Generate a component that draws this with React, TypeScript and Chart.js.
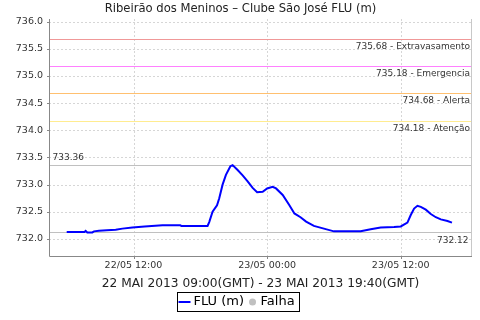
import React, { useEffect, useRef } from "react";
import { Chart, registerables } from "chart.js";

Chart.register(...registerables);

const TITLE = "Ribeirão dos Meninos – Clube São José FLU (m)";
const X_AXIS_TITLE = "22 MAI 2013 09:00(GMT) - 23 MAI 2013 19:40(GMT)";

// hours since 22/05 00:00 (local time)
const hours = [
  6.0, 7.0, 7.6, 7.7, 7.85, 8.3, 8.45, 8.9, 9.6, 10.4, 11.0, 11.9, 13.0, 14.6,
  16.2, 16.3, 18.5, 18.65, 18.8, 19.1, 19.5, 19.7, 20.0, 20.3, 20.7, 20.9,
  21.35, 21.8, 22.25, 22.7, 23.1, 23.6, 24.0, 24.5, 24.8, 25.4, 26.0, 26.45,
  27.0, 27.5, 28.2, 29.1, 30.0, 32.4, 33.3, 34.2, 35.4, 36.0, 36.6, 36.9, 37.2,
  37.5, 37.8, 38.25, 38.7, 39.15, 39.6, 40.2, 40.6,
];
const levels = [
  732.13, 732.13, 732.13, 732.15, 732.12, 732.12, 732.14, 732.15, 732.16,
  732.17, 732.19, 732.21, 732.23, 732.25, 732.25, 732.24, 732.24, 732.24,
  732.31, 732.5, 732.62, 732.75, 733.0, 733.18, 733.34, 733.36, 733.27, 733.17,
  733.06, 732.94, 732.86, 732.87, 732.93, 732.96, 732.93, 732.81, 732.62,
  732.47, 732.4, 732.32, 732.24, 732.19, 732.14, 732.14, 732.18, 732.21, 732.22,
  732.23, 732.3, 732.44, 732.56, 732.61, 732.59, 732.54, 732.46, 732.4, 732.36,
  732.33, 732.3,
];

const xTickValues = [12, 24, 36];
const xTickLabels = ["22/05 12:00", "23/05 00:00", "23/05 12:00"];
const X_MIN = 4.41;
const X_MAX = 42.4;
const Y_MIN = 731.686;
const Y_MAX = 736.05;
const Y_STEP = 0.5;

const thresholdValues = [735.68, 735.18, 734.68, 734.18];
const thresholdNames = ["Extravasamento", "Emergencia", "Alerta", "Atenção"];
const thresholdColors = ["#f09898", "#ff80ff", "#ffc070", "#ffec90"];
const maxValue = 733.36;
const minValue = 732.12;

const legendLabels = ["FLU (m)", "Falha"];

const FONT = "'DejaVu Sans', sans-serif";

const decor = {
  id: "decor",
  beforeDatasetsDraw(chart: any) {
    const { ctx, chartArea: a, scales } = chart;
    const x = scales.x;
    const y = scales.y;
    ctx.save();
    // dashed grid
    ctx.strokeStyle = "#d6d6d6";
    ctx.lineWidth = 1;
    ctx.setLineDash([2, 2]);
    y.ticks.forEach((t: any) => {
      const py = Math.round(y.getPixelForValue(t.value)) + 0.5;
      ctx.beginPath();
      ctx.moveTo(a.left, py);
      ctx.lineTo(a.right, py);
      ctx.stroke();
    });
    x.ticks.forEach((t: any) => {
      const px = Math.round(x.getPixelForValue(t.value)) + 0.5;
      ctx.beginPath();
      ctx.moveTo(px, a.top);
      ctx.lineTo(px, a.bottom);
      ctx.stroke();
    });
    ctx.setLineDash([]);

    // threshold lines
    const hline = (v: number, color: string) => {
      const py = Math.round(y.getPixelForValue(v)) + 0.5;
      ctx.strokeStyle = color;
      ctx.lineWidth = 1;
      ctx.beginPath();
      ctx.moveTo(a.left, py);
      ctx.lineTo(a.right, py);
      ctx.stroke();
      return py;
    };
    ctx.font = `9px ${FONT}`;
    ctx.fillStyle = "#333";
    thresholdValues.forEach((v, i) => {
      const py = hline(v, thresholdColors[i]);
      ctx.textAlign = "right";
      ctx.textBaseline = "middle";
      ctx.fillText(`${v.toFixed(2)} - ${thresholdNames[i]}`, a.right - 2, py + 7.5);
    });
    const pyMax = hline(maxValue, "#c0c0c0");
    ctx.textAlign = "left";
    ctx.textBaseline = "middle";
    ctx.fillText(maxValue.toFixed(2), a.left + 3.5, pyMax - 7.7);
    const pyMin = hline(minValue, "#c0c0c0");
    ctx.textAlign = "right";
    ctx.fillText(minValue.toFixed(2), a.right - 3.5, pyMin + 7.7);
    ctx.restore();
  },
  afterDraw(chart: any) {
    const { ctx, chartArea: a, scales } = chart;
    const x = scales.x;
    const y = scales.y;
    ctx.save();
    // axes
    ctx.lineWidth = 1;
    ctx.strokeStyle = "#c8c8c8";
    ctx.beginPath();
    ctx.moveTo(a.right - 0.5, a.top);
    ctx.lineTo(a.right - 0.5, a.bottom);
    ctx.stroke();
    ctx.strokeStyle = "#888";
    ctx.beginPath();
    ctx.moveTo(a.left + 0.5, a.top);
    ctx.lineTo(a.left + 0.5, a.bottom + 0.5);
    ctx.lineTo(a.right, a.bottom + 0.5);
    ctx.stroke();
    y.ticks.forEach((t: any) => {
      const py = Math.round(y.getPixelForValue(t.value)) + 0.5;
      ctx.beginPath();
      ctx.moveTo(a.left - 2, py);
      ctx.lineTo(a.left, py);
      ctx.stroke();
    });
    x.ticks.forEach((t: any) => {
      const px = Math.round(x.getPixelForValue(t.value)) + 0.5;
      ctx.beginPath();
      ctx.moveTo(px, a.bottom + 1);
      ctx.lineTo(px, a.bottom + 3);
      ctx.stroke();
    });

    // title
    ctx.fillStyle = "#222";
    ctx.font = `11.6px ${FONT}`;
    ctx.textAlign = "center";
    ctx.textBaseline = "alphabetic";
    ctx.fillText(TITLE, chart.width / 2 + 0.5, 12);

    // x axis title
    ctx.font = `12.2px ${FONT}`;
    ctx.fillText(X_AXIS_TITLE, (a.left + a.right) / 2, 287);

    // legend
    ctx.font = `13px ${FONT}`;
    const w1 = ctx.measureText(legendLabels[0]).width;
    const w2 = ctx.measureText(legendLabels[1]).width;
    const total = 1 + 12 + 3 + w1 + 5 + 7 + 4.5 + w2 + 5;
    const left = Math.round(238.5 - total / 2) + 0.5;
    const top = 292.5;
    const h = 19;
    const cy = top + h / 2;
    ctx.strokeStyle = "#000";
    ctx.lineWidth = 1;
    ctx.strokeRect(left, top, Math.round(total), h);
    let cx = left + 1;
    ctx.strokeStyle = "#0000ff";
    ctx.lineWidth = 2;
    ctx.beginPath();
    ctx.moveTo(cx, cy);
    ctx.lineTo(cx + 12, cy);
    ctx.stroke();
    cx += 15;
    ctx.fillStyle = "#000";
    ctx.textAlign = "left";
    ctx.textBaseline = "middle";
    ctx.fillText(legendLabels[0], cx, cy);
    cx += w1 + 5 + 3.5;
    ctx.fillStyle = "#c0c0c0";
    ctx.beginPath();
    ctx.arc(cx, cy, 3.5, 0, Math.PI * 2);
    ctx.fill();
    cx += 3.5 + 4.5;
    ctx.fillStyle = "#000";
    ctx.fillText(legendLabels[1], cx, cy);
    ctx.restore();
  },
};

export default function App() {
  const ref = useRef<HTMLCanvasElement | null>(null);
  useEffect(() => {
    if (!ref.current) return;
    const chart = new Chart(ref.current, {
      type: "line",
      data: {
        datasets: [
          {
            label: legendLabels[0],
            data: hours.map((h, i) => ({ x: h, y: levels[i] })),
            borderColor: "#0000ff",
            backgroundColor: "#0000ff",
            borderWidth: 2,
            pointRadius: 0,
            tension: 0,
            fill: false,
          },
        ],
      },
      options: {
        responsive: false,
        animation: false,
        devicePixelRatio: 1,
        layout: { padding: { left: 0, top: 19, right: 8, bottom: 0 } },
        plugins: {
          legend: { display: false },
          title: { display: false },
          tooltip: { enabled: false },
        },
        scales: {
          x: {
            type: "linear",
            min: X_MIN,
            max: X_MAX,
            grid: { display: false, drawTicks: false },
            border: { display: false },
            afterBuildTicks: (scale: any) => {
              scale.ticks = xTickValues.map((v) => ({ value: v }));
            },
            afterFit: (scale: any) => {
              scale.height = 64;
            },
            ticks: {
              autoSkip: false,
              maxRotation: 0,
              padding: 4,
              color: "#333",
              font: { family: FONT, size: 9.5 },
              callback: (v: any) => {
                const i = xTickValues.indexOf(Number(v));
                return i >= 0 ? xTickLabels[i] : "";
              },
            },
          },
          y: {
            type: "linear",
            min: Y_MIN,
            max: Y_MAX,
            grid: { display: false, drawTicks: false },
            border: { display: false },
            afterFit: (scale: any) => {
              scale.width = 49;
            },
            ticks: {
              stepSize: Y_STEP,
              includeBounds: false,
              padding: 6,
              color: "#333",
              font: { family: FONT, size: 9.5 },
              callback: (v: any) => Number(v).toFixed(1),
            },
          },
        },
      },
      plugins: [decor],
    } as any);
    return () => chart.destroy();
  }, []);
  return (
    <div style={{ position: "absolute", left: 0, top: 0, width: 480, height: 320, background: "#fff" }}>
      <canvas ref={ref} width={480} height={320} style={{ display: "block" }} />
    </div>
  );
}
